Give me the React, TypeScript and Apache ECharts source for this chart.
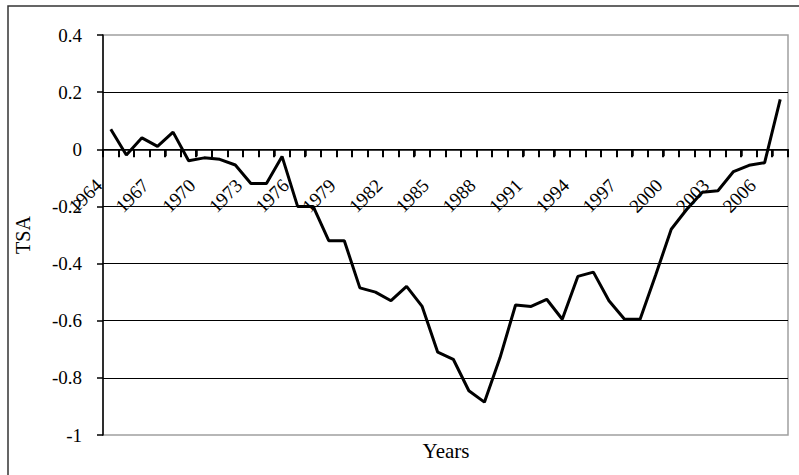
import React, { useEffect, useRef } from "react";
import * as echarts from "echarts";

const years: string[] = [
  "1964","1965","1966","1967","1968","1969","1970","1971","1972","1973",
  "1974","1975","1976","1977","1978","1979","1980","1981","1982","1983",
  "1984","1985","1986","1987","1988","1989","1990","1991","1992","1993",
  "1994","1995","1996","1997","1998","1999","2000","2001","2002","2003",
  "2004","2005","2006","2007",
];

const tsa: number[] = [
  0.07, -0.02, 0.04, 0.01, 0.06, -0.04, -0.03, -0.035, -0.055, -0.12,
  -0.12, -0.025, -0.2, -0.2, -0.32, -0.32, -0.485, -0.5, -0.53, -0.48,
  -0.55, -0.71, -0.735, -0.845, -0.885, -0.73, -0.545, -0.55, -0.525, -0.595,
  -0.445, -0.43, -0.53, -0.595, -0.595, -0.44, -0.28, -0.21, -0.15, -0.145,
  -0.078, -0.056, -0.047, 0.175,
];

const yMin = -1;
const yMax = 0.4;
const yStep = 0.2;

const gridTop = 35;
const gridBottom = 40;
const chartH = 475;

export default function App() {
  const ref = useRef<HTMLDivElement>(null);
  useEffect(() => {
    if (!ref.current) return;
    const chart = echarts.init(ref.current, undefined, { renderer: "svg" });
    const serif = "'Liberation Serif', 'Times New Roman', serif";
    const plotH = chartH - gridTop - gridBottom;
    const zeroFromBottom = (plotH * (0 - yMin)) / (yMax - yMin);
    const lastIdx = years.length - 1;
    chart.setOption({
      animation: false,
      backgroundColor: "#ffffff",
      grid: {
        left: 103,
        right: 11,
        top: gridTop,
        bottom: gridBottom,
        containLabel: false,
        outerBoundsMode: "none",
        show: true,
        borderColor: "#a0a0a0",
        borderWidth: 1.5,
        backgroundColor: "transparent",
      },
      xAxis: {
        type: "category",
        data: years,
        boundaryGap: true,
        position: "bottom",
        offset: -zeroFromBottom,
        axisLine: { show: true, onZero: false, lineStyle: { color: "#000", width: 1.5 } },
        axisTick: {
          show: true,
          interval: 0,
          inside: false,
          length: 7,
          lineStyle: { color: "#000", width: 1.5 },
        },
        axisLabel: {
          interval: 2,
          rotate: 45,
          margin: 21,
          padding: [0, 17, 0, 0],
          fontFamily: serif,
          fontSize: 19,
          color: "#000",
          hideOverlap: false,
        },
        splitLine: { show: false },
      },
      yAxis: {
        type: "value",
        min: yMin,
        max: yMax,
        interval: yStep,
        axisLine: { show: true, lineStyle: { color: "#000", width: 1.5 } },
        axisTick: { show: true, inside: false, length: 6, lineStyle: { color: "#000", width: 1.5 } },
        axisLabel: {
          margin: 21,
          fontFamily: serif,
          fontSize: 19,
          color: "#000",
          formatter: (v: number) => String(Math.round(v * 10) / 10),
        },
        splitLine: {
          show: true,
          showMinLine: false,
          showMaxLine: false,
          lineStyle: { color: "#000", width: 1 },
        },
        name: "TSA",
        nameLocation: "middle",
        nameRotate: 90,
        nameGap: 70,
        nameTextStyle: { fontFamily: serif, fontSize: 20, color: "#000" },
      },
      graphic: [
        {
          type: "rect",
          shape: { x: 8, y: 6, width: 820, height: 500 },
          style: { fill: "none", stroke: "#333", lineWidth: 1.5 },
          silent: true,
          z: -1,
        },
        {
          type: "text",
          x: 446,
          y: 451,
          style: {
            text: "Years",
            font: "21px " + serif,
            fill: "#000",
            textAlign: "center",
            textVerticalAlign: "middle",
          },
        },
      ],
      series: [
        {
          // category tick marks under the zero line, placed through the axis scales
          type: "custom",
          silent: true,
          clip: false,
          z: 4,
          data: years.map((_, i) => [i, 0]),
          encode: { x: 0, y: 1 },
          renderItem: (params: any, api: any) => {
            const idx = api.value(0);
            const p = api.coord([idx, 0]);
            const w = api.size([1, 0])[0];
            const xs = [p[0] - w / 2];
            if (idx === lastIdx) xs.push(p[0] + w / 2);
            return {
              type: "group",
              children: xs.map((x) => ({
                type: "rect",
                shape: { x: Math.round(x) - 1, y: p[1], width: 2, height: 8 },
                style: { fill: "#000" },
              })),
            };
          },
        },
        {
          type: "line",
          data: tsa,
          symbol: "none",
          lineStyle: { color: "#000", width: 3 },
          z: 5,
        },
      ],
    });
    return () => chart.dispose();
  }, []);
  return (
    <div
      ref={ref}
      style={{ position: "fixed", left: 0, top: 0, width: 799, height: 475 }}
    />
  );
}
